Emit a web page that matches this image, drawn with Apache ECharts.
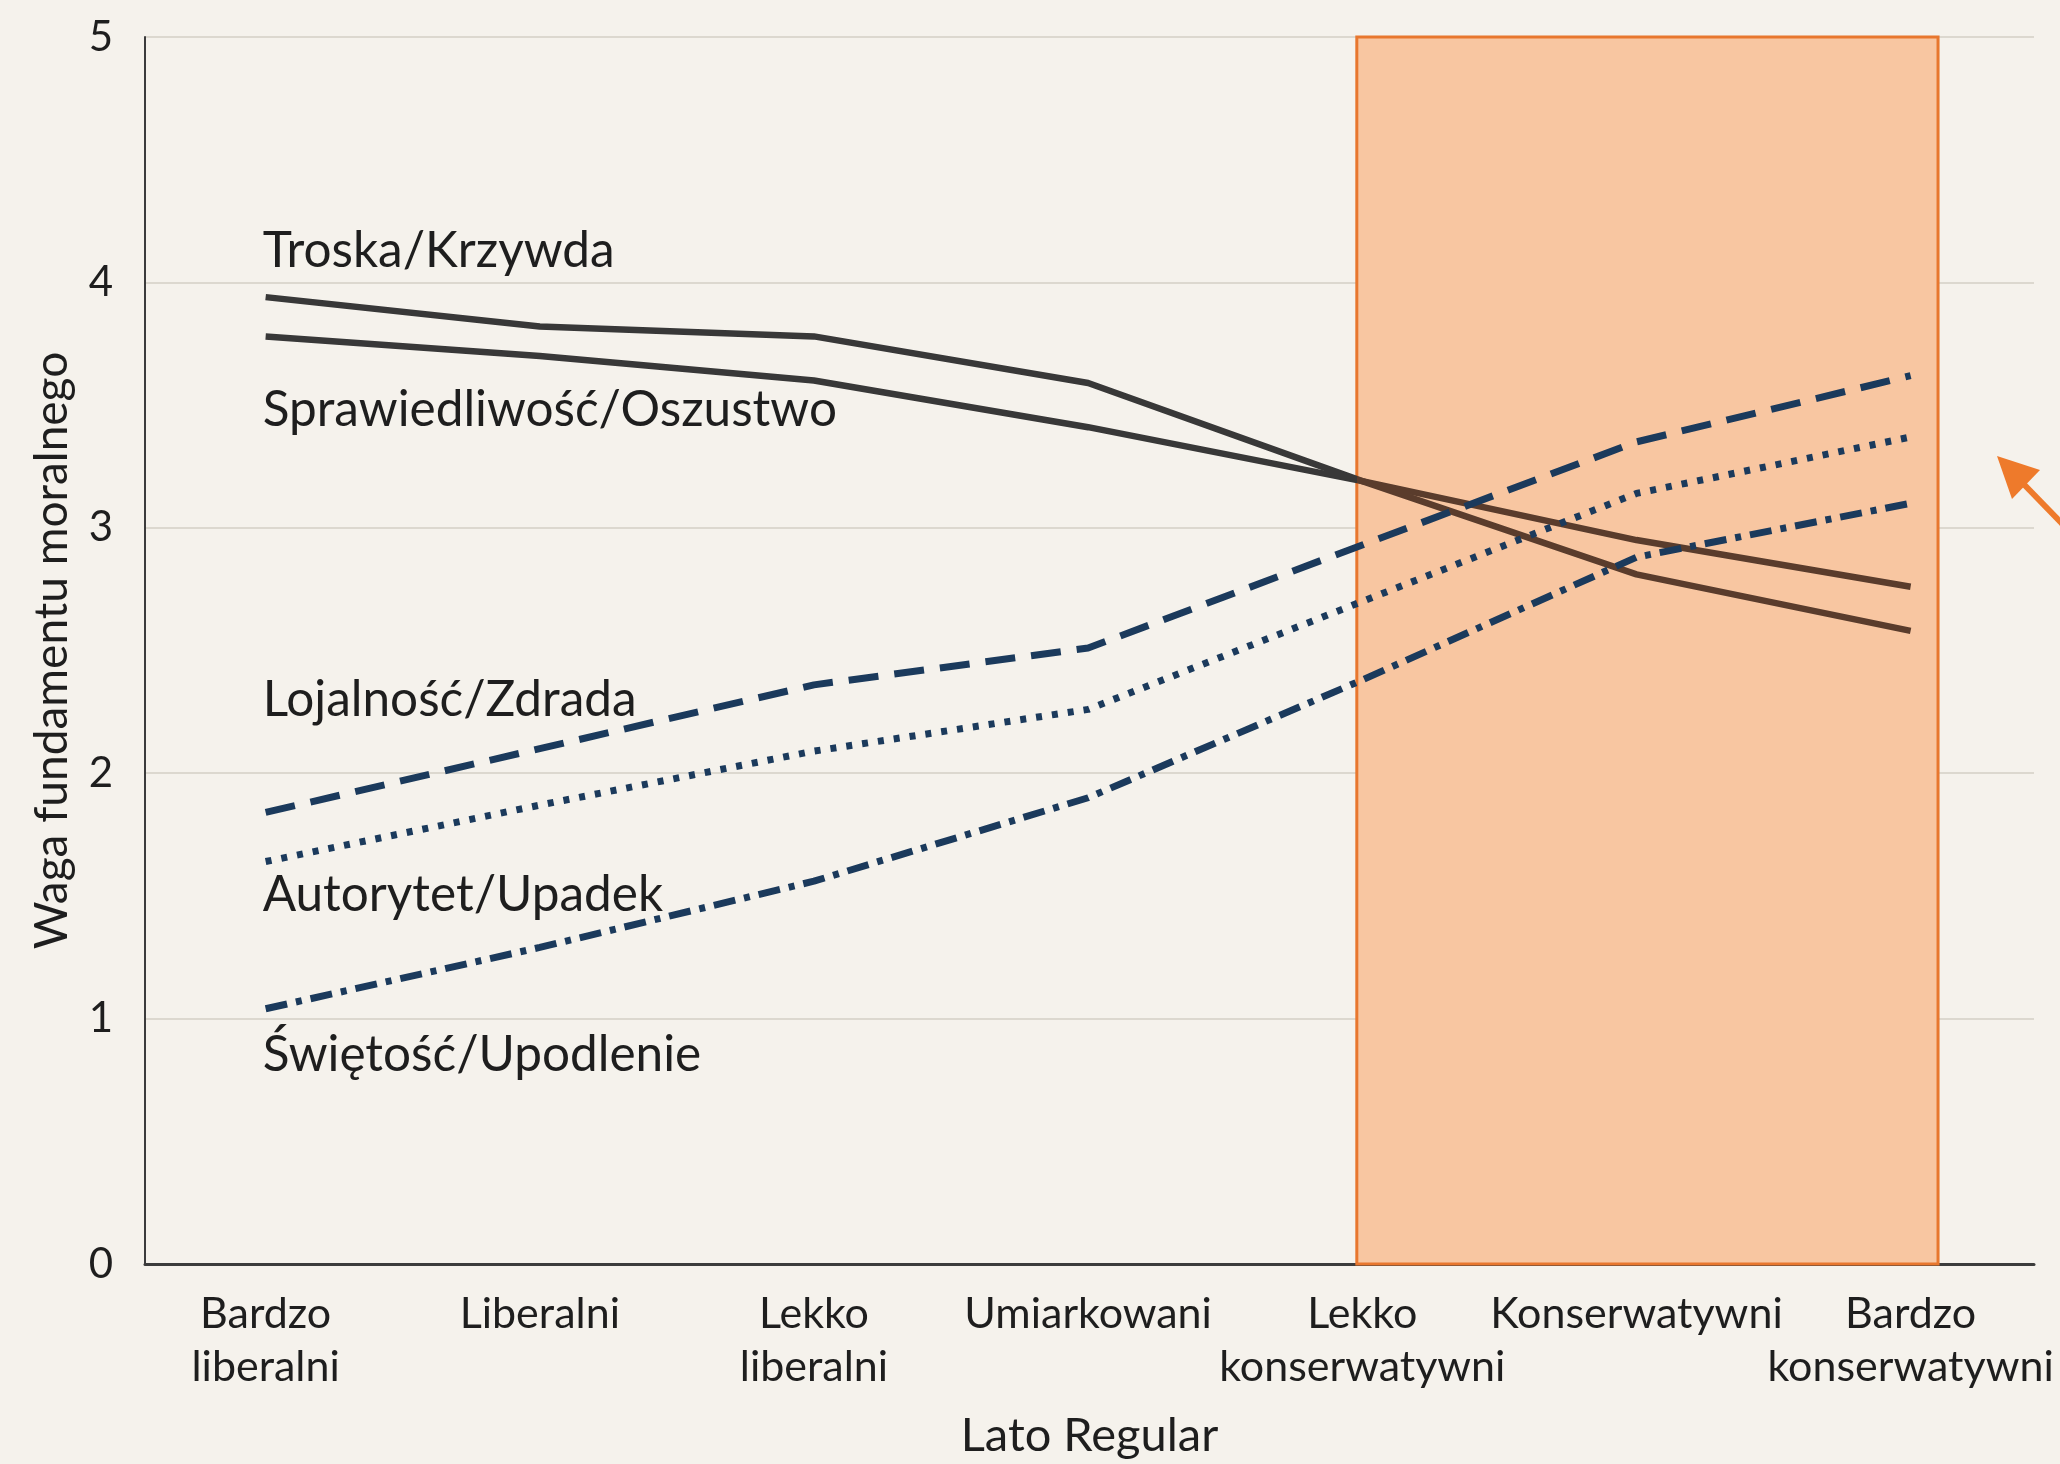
<!DOCTYPE html>
<html>
<head>
<meta charset="utf-8">
<script src="https://cdn.jsdelivr.net/npm/echarts@6/dist/echarts.min.js"></script>
<style>
  html, body { margin: 0; padding: 0; background: #f5f2ec; }
  #chart { width: 2060px; height: 1464px; }
</style>
</head>
<body>
<div id="chart"></div>
<script>
(function() {
  // dane
  var categories = ['Bardzo\nliberalni', 'Liberalni', 'Lekko\nliberalni', 'Umiarkowani',
    'Lekko\nkonserwatywni', 'Konserwatywni', 'Bardzo\nkonserwatywni'];
  var yTicks = [0, 1, 2, 3, 4, 5];
  var troska = [3.94, 3.82, 3.78, 3.59, 3.19, 2.81, 2.58];
  var sprawiedliwosc = [3.78, 3.70, 3.60, 3.41, 3.19, 2.95, 2.76];
  var lojalnosc = [1.84, 2.10, 2.36, 2.51, 2.93, 3.35, 3.62];
  var autorytet = [1.64, 1.87, 2.09, 2.26, 2.70, 3.14, 3.37];
  var swietosc = [1.04, 1.29, 1.56, 1.90, 2.38, 2.88, 3.10];
  var highlightRange = [3.98, 6.1];

  var myChart = echarts.init(document.getElementById('chart'));
  var font = 'Lato';
  var navy = '#1b3a5c';
  var dark = '#383838';
  var brown = '#5a3c2c';

  function pts(arr) {
    return arr.map(function(v, i) { return [i, v]; });
  }
  function nameMark(name, v, dy) {
    return {
      symbol: 'circle', symbolSize: 1,
      itemStyle: { color: 'rgba(0,0,0,0)' },
      silent: true,
      data: [{
        coord: [0, v], name: name,
        label: {
          show: true, formatter: name, position: 'inside',
          align: 'left', verticalAlign: 'middle', offset: [-3, dy],
          color: '#1e1e1e', fontFamily: font, fontSize: 49.5
        }
      }]
    };
  }
  // etykiety kategorii rozdzielone na dwie osie, żeby nie były ukrywane
  function catLabels(values) {
    return {
      customValues: values,
      showMinLabel: true, showMaxLabel: true, hideOverlap: false,
      formatter: function(v) { return categories[Math.round(v)]; },
      color: '#1e1e1e', fontFamily: font, fontSize: 43, lineHeight: 53, margin: 24
    };
  }

  var option = {
    backgroundColor: '#f5f2ec',
    animation: false,
    grid: { left: 145, right: 26, top: 37, bottom: 199 },
    xAxis: [
      {
        type: 'value',
        min: -0.44, max: 6.45,
        name: 'Lato Regular',
        nameLocation: 'middle',
        nameGap: 148,
        nameTextStyle: { color: '#1e1e1e', fontFamily: font, fontSize: 47 },
        axisLine: { onZero: false, lineStyle: { color: '#3c3c3c', width: 3 } },
        axisTick: { show: false },
        splitLine: { show: false },
        axisLabel: catLabels([0, 2, 4, 6])
      },
      {
        type: 'value', position: 'bottom',
        min: -0.44, max: 6.45,
        axisLine: { show: false },
        axisTick: { show: false },
        splitLine: { show: false },
        axisLabel: catLabels([1, 3, 5])
      }
    ],
    yAxis: {
      type: 'value',
      min: 0, max: 5, interval: 1,
      name: 'Waga fundamentu moralnego',
      nameLocation: 'middle',
      nameGap: 70,
      nameTextStyle: { color: '#1e1e1e', fontFamily: font, fontSize: 46 },
      axisLine: { show: true, onZero: false, lineStyle: { color: '#3c3c3c', width: 2 } },
      axisTick: { show: false },
      axisLabel: {
        formatter: function(v) { return yTicks.indexOf(v) >= 0 ? String(v) : ''; },
        color: '#1e1e1e', fontFamily: font, fontSize: 42, margin: 32
      },
      splitLine: { lineStyle: { color: '#dcd8cf', width: 2 } }
    },
    series: [
      {
        // pomarańczowy prostokąt
        type: 'line', data: [], z: 1, silent: true,
        markArea: {
          silent: true,
          itemStyle: { color: '#f8c6a1', borderColor: '#e8772e', borderWidth: 3 },
          data: [[{ coord: [highlightRange[0], 0] }, { coord: [highlightRange[1], 5] }]]
        }
      },
      {
        name: 'Troska/Krzywda', type: 'line', z: 3, showSymbol: false,
        lineStyle: { width: 6.5, color: dark },
        data: pts(troska),
        markPoint: nameMark('Troska/Krzywda', troska[0], -46)
      },
      {
        name: 'Sprawiedliwość/Oszustwo', type: 'line', z: 3, showSymbol: false,
        lineStyle: { width: 6.5, color: dark },
        data: pts(sprawiedliwosc),
        markPoint: nameMark('Sprawiedliwość/Oszustwo', sprawiedliwosc[0], 74)
      },
      {
        name: 'Lojalność/Zdrada', type: 'line', z: 3, showSymbol: false,
        itemStyle: { color: navy },
        lineStyle: { color: navy, width: 7, type: [30, 16] },
        data: pts(lojalnosc),
        markPoint: nameMark('Lojalność/Zdrada', lojalnosc[0], -112)
      },
      {
        name: 'Autorytet/Upadek', type: 'line', z: 3, showSymbol: false,
        itemStyle: { color: navy },
        lineStyle: { color: navy, width: 7, type: [6, 10] },
        data: pts(autorytet),
        markPoint: nameMark('Autorytet/Upadek', autorytet[0], 33)
      },
      {
        name: 'Świętość/Upodlenie', type: 'line', z: 3, showSymbol: false,
        itemStyle: { color: navy },
        lineStyle: { color: navy, width: 7, type: [22, 9, 6, 9] },
        data: pts(swietosc),
        markPoint: nameMark('Świętość/Upodlenie', swietosc[0], 46)
      }
    ],
    graphic: [
      {
        type: 'group', silent: true,
        children: [
          { type: 'line', shape: { x1: 2075, y1: 537, x2: 2010, y2: 470 },
            style: { stroke: '#ee7a2b', lineWidth: 6 } },
          { type: 'polygon', shape: { points: [[1997, 456], [2040, 470], [2012, 499]] },
            style: { fill: '#ee7a2b' } }
        ]
      }
    ]
  };
  myChart.setOption(option);

  // linie ciągłe brązowieją wewnątrz prostokąta
  var edge = myChart.convertToPixel({ gridIndex: 0 }, [highlightRange[0], 0])[0];
  var grad = new echarts.graphic.LinearGradient(0, 0, 2060, 0, [
    { offset: 0, color: dark },
    { offset: edge / 2060, color: dark },
    { offset: edge / 2060, color: brown },
    { offset: 1, color: brown }
  ], true);
  myChart.setOption({
    series: [{}, { lineStyle: { color: grad } }, { lineStyle: { color: grad } }]
  });

  window.addEventListener('resize', function() {
    myChart.resize();
  });
})();
</script>
</body>
</html>
